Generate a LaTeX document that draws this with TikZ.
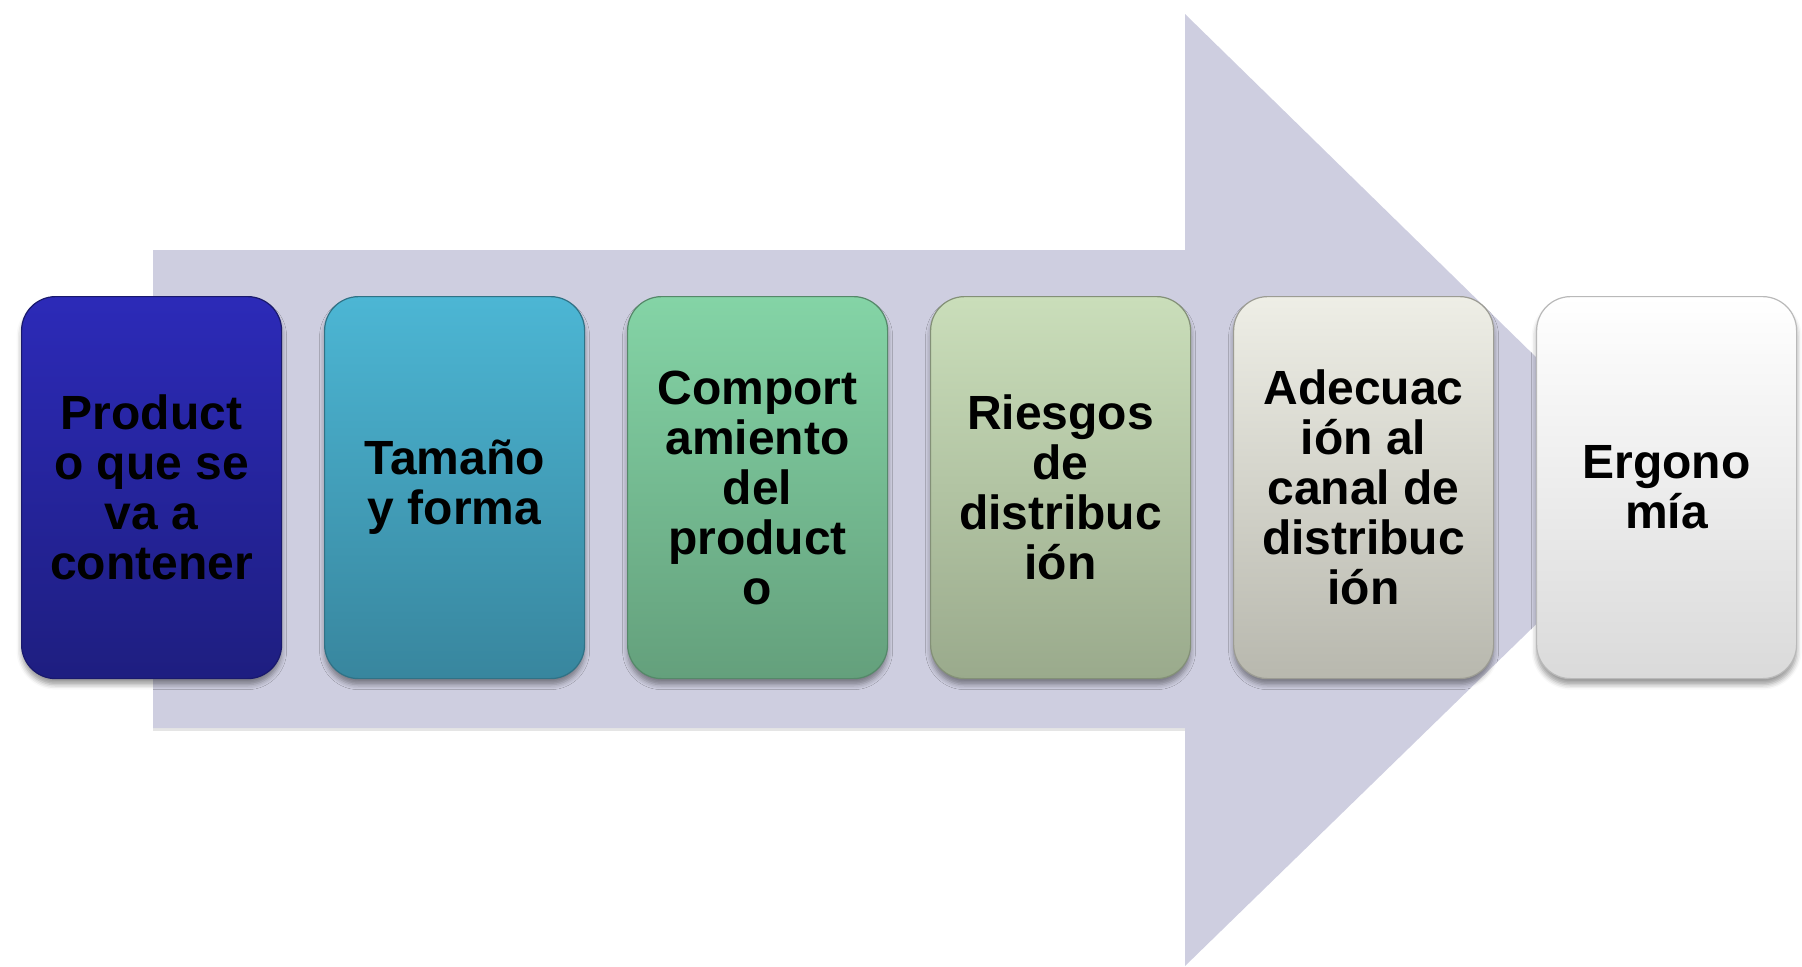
\documentclass[tikz,border=0pt]{standalone}
\usepackage{fontspec}
\setmainfont{Liberation Sans}
\usetikzlibrary{shadows.blur}

% band behind the stages
\definecolor{bandfill}{RGB}{206,206,224}
% stage gradients, top and bottom
\definecolor{sAtop}{RGB}{44,42,184}
\definecolor{sAbot}{RGB}{30,30,128}
\definecolor{sBtop}{RGB}{76,182,212}
\definecolor{sBbot}{RGB}{56,134,158}
\definecolor{sCtop}{RGB}{132,212,166}
\definecolor{sCbot}{RGB}{100,160,124}
\definecolor{sDtop}{RGB}{202,222,186}
\definecolor{sDbot}{RGB}{154,170,140}
\definecolor{sEtop}{RGB}{238,238,230}
\definecolor{sEbot}{RGB}{184,184,174}
\definecolor{sFtop}{RGB}{255,255,255}
\definecolor{sFbot}{RGB}{218,218,218}

\begin{document}
\begin{tikzpicture}[x=0.5pt,y=-0.5pt,
  stage/.style={rectangle, rounded corners=17pt, anchor=north west,
    minimum width=130pt, minimum height=191pt, inner sep=0pt,
    align=center, text=black,
    font=\fontsize{24}{25}\selectfont\bfseries,
    line width=0.6pt,
    blur shadow={shadow xshift=0pt, shadow yshift=-3pt,
      shadow blur radius=2.5pt, shadow opacity=40}},
  band/.style={fill=bandfill, draw=none}]

\useasboundingbox (0,0) rectangle (1802,966);

% big arrow
\coordinate (s1) at (153,250);
\coordinate (s2) at (1185,250);
\coordinate (h1) at (1185,14);
\coordinate (tip) at (1673,491);
\coordinate (h2) at (1185,966);
\coordinate (s3) at (1185,728);
\coordinate (s4) at (153,728);
\fill[black, opacity=0.10] (153,724) rectangle (1185,731);
\path[band] (s1) -- (s2) -- (h1) -- (tip) -- (h2) -- (s3) -- (s4) -- cycle;

% stages
\node[stage, top color=sAtop, bottom color=sAbot, draw=sAbot!85!black]
  (st1) at (21,296) {Product\\o que se\\va a\\contener};
\node[stage, top color=sBtop, bottom color=sBbot, draw=sBbot!85!black]
  (st2) at (324,296) {Tamaño\\y forma};
\node[stage, top color=sCtop, bottom color=sCbot, draw=sCbot!85!black]
  (st3) at (627,296) {Comport\\amiento\\del\\product\\o};
\node[stage, top color=sDtop, bottom color=sDbot, draw=sDbot!85!black]
  (st4) at (930,296) {Riesgos\\de\\distribuc\\ión};
\node[stage, top color=sEtop, bottom color=sEbot, draw=sEbot!85!black]
  (st5) at (1233,296) {Adecuac\\ión al\\canal de\\distribuc\\ión};
\node[stage, top color=sFtop, bottom color=sFbot, draw=sFbot!85!black]
  (st6) at (1536,296) {Ergono\\mía};

\end{tikzpicture}
\end{document}
